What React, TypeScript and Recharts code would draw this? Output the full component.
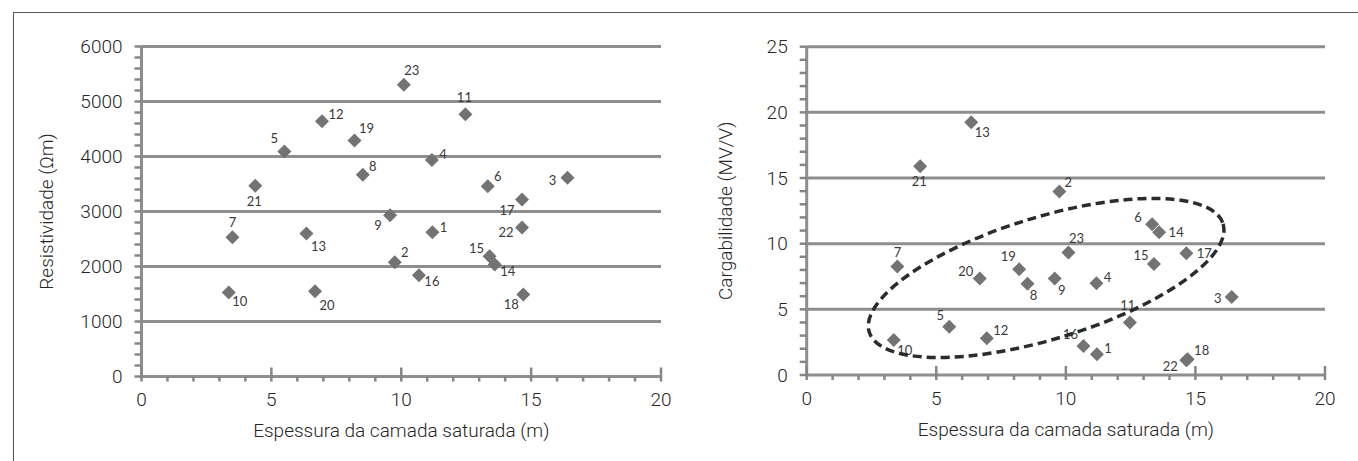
import { ScatterChart, Scatter, XAxis, YAxis, ReferenceLine, ReferenceDot, Label } from 'recharts';

// 측점 번호 (1..23)
const WELLS = ['1', '2', '3', '4', '5', '6', '7', '8', '9', '10', '11', '12', '13', '14', '15', '16', '17', '18', '19', '20', '21', '22', '23'];

// Espessura da camada saturada (m)
const THICKNESS = [11.2, 9.75, 16.4, 11.18, 5.5, 13.33, 3.5, 8.52, 9.57, 3.36, 12.47, 6.95, 6.35, 13.6, 13.4, 10.68, 14.65, 14.7, 8.2, 6.68, 4.38, 14.65, 10.1];

// Resistividade (Ωm)
const RESISTIVITY = [2622, 2078, 3615, 3935, 4093, 3457, 2532, 3670, 2931, 1528, 4770, 4642, 2599, 2036, 2187, 1842, 3216, 1491, 4292, 1552, 3470, 2708, 5303];

// Cargabilidade (MV/V)
const CHARGEABILITY = [1.58, 13.97, 5.94, 6.99, 3.68, 11.48, 8.26, 6.94, 7.34, 2.67, 3.99, 2.79, 19.24, 10.87, 8.46, 2.21, 9.27, 1.2, 8.05, 7.34, 15.9, 1.12, 9.32];

// 축 눈금
const X_TICKS = [0, 5, 10, 15, 20];
const Y_TICKS_RES = [0, 1000, 2000, 3000, 4000, 5000, 6000];
const Y_TICKS_CHG = [0, 5, 10, 15, 20, 25];

// 점선 타원 중심 (데이터 단위)
const ELLIPSE_CENTER = { x: 9.24, y: 7.39 };

// 라벨 위치 (점 기준 px 오프셋) - 스타일 정보
const LABEL_OFFSETS_RES: Record<string, [number, number]> = {
  '1': [11, -5], '2': [10, -10], '3': [-15, 2], '4': [11, -6], '5': [-10, -13], '6': [10, -10],
  '7': [0, -15], '8': [10, -9], '9': [-12, 10], '10': [11, 9], '11': [-1, -17], '12': [14, -7],
  '13': [12, 12], '14': [13, 6], '15': [-13, -8], '16': [13, 6], '17': [-15, 10], '18': [-12, 10],
  '19': [12, -12], '20': [12, 14], '21': [-1, 15], '22': [-16, 4], '23': [8, -15],
};
const LABEL_OFFSETS_CHG: Record<string, [number, number]> = {
  '1': [11, -6], '2': [9, -10], '3': [-14, 1], '4': [11, -6], '5': [-9, -12], '6': [-14, -7],
  '7': [0, -15], '8': [6, 11], '9': [7, 11], '10': [11, 10], '11': [-2, -18], '12': [14, -8],
  '13': [11, 10], '14': [17, 0], '15': [-13, -9], '16': [-13, -12], '17': [18, 0], '18': [14, -9],
  '19': [-11, -13], '20': [-14, -8], '21': [-1, 15], '22': [-16, 6], '23': [8, -15],
};

const AXIS_COLOR = '#8e8e8e';
const TICK_COLOR = '#868686';
const MARK_COLOR = '#737373';
const TEXT_COLOR = '#262626';
const FONT = 'Roboto, "Liberation Sans", Arial, sans-serif';
const LABEL_FONT = 'Lato, "Open Sans", sans-serif';

const resData = WELLS.map((id, i) => ({ id, x: THICKNESS[i], y: RESISTIVITY[i] }));
const chgData = WELLS.map((id, i) => ({ id, x: THICKNESS[i], y: CHARGEABILITY[i] }));

function makeDiamond(offsets: Record<string, [number, number]>) {
  return (props: any) => {
    const { cx, cy, payload } = props;
    if (cx == null || cy == null) return null;
    const r = 7;
    const [dx, dy] = offsets[payload.id] || [10, -10];
    return (
      <g>
        <polygon
          points={`${cx},${cy - r} ${cx + r},${cy} ${cx},${cy + r} ${cx - r},${cy}`}
          fill={MARK_COLOR}
        />
        <text
          x={cx + dx}
          y={cy + dy}
          textAnchor="middle"
          dominantBaseline="central"
          fontFamily={LABEL_FONT}
          fontSize={13}
          fill="#3a3a3a"
        >
          {payload.id}
        </text>
      </g>
    );
  };
}

function makeYTick(major: number[]) {
  return (props: any) => {
    const { x, y, payload } = props;
    const isMajor = major.includes(payload.value);
    return (
      <g>
        <rect x={x - 7} y={y - 1.25} width={7} height={2.5} fill={TICK_COLOR} stroke="none" />
        {isMajor && (
          <text x={x - 19} y={y} textAnchor="end" dominantBaseline="central"
            fontFamily={FONT} fontWeight={300} fontSize={19} fill={TEXT_COLOR}>
            {payload.value}
          </text>
        )}
      </g>
    );
  };
}

const XTick = (props: any) => {
  const { x, y, payload } = props;
  const isMajor = X_TICKS.includes(payload.value);
  const top = isMajor ? y - 9 : y;
  return (
    <g>
      <rect x={x - 1.25} y={top} width={2.5} height={y + 5 - top} fill={TICK_COLOR} stroke="none" />
      {isMajor && (
        <text x={x} y={y + 23} textAnchor="middle" dominantBaseline="central"
          fontFamily={FONT} fontWeight={300} fontSize={19} fill={TEXT_COLOR}>
          {payload.value}
        </text>
      )}
    </g>
  );
};

const EllipseShape = (props: any) => {
  const { cx, cy } = props;
  if (cx == null || cy == null) return null;
  return (
    <ellipse
      cx={cx}
      cy={cy}
      rx={185}
      ry={61}
      transform={`rotate(-17 ${cx} ${cy})`}
      fill="none"
      stroke="#2b2b2b"
      strokeWidth={3.5}
      strokeDasharray="9 5"
    />
  );
};

function range(start: number, end: number, step: number) {
  const out: number[] = [];
  for (let v = start; v <= end + 1e-9; v += step) out.push(Math.round(v * 1000) / 1000);
  return out;
}

interface PanelProps {
  data: { id: string; x: number; y: number }[];
  width: number;
  left: number;
  marginLeft: number;
  yAxisWidth: number;
  marginRight: number;
  marginTop: number;
  plotBottom: number;
  yMax: number;
  yMajor: number[];
  yMinorStep: number;
  yTitle: string;
  offsets: Record<string, [number, number]>;
  ellipse?: boolean;
}

function Panel(p: PanelProps) {
  const height = 461;
  const xAxisHeight = 70;
  const marginBottom = height - p.plotBottom - xAxisHeight;
  return (
    <div style={{ position: 'absolute', left: p.left, top: 0 }}>
      <ScatterChart
        width={p.width}
        height={height}
        margin={{ top: p.marginTop, right: p.marginRight, bottom: marginBottom, left: p.marginLeft }}
      >
        <XAxis
          type="number"
          dataKey="x"
          domain={[0, 20]}
          ticks={range(0, 20, 1)}
          interval={0}
          tickSize={0}
          tickMargin={0}
          tickLine={false}
          axisLine={{ stroke: AXIS_COLOR, strokeWidth: 3 }}
          tick={XTick}
          height={xAxisHeight}
        >
          <Label
            content={({ viewBox }: any) => (
              <text
                x={viewBox.x + viewBox.width / 2}
                y={viewBox.y + 54}
                textAnchor="middle"
                dominantBaseline="central"
                fontFamily={FONT}
                fontWeight={300}
                fontSize={19}
                fill={TEXT_COLOR}
              >
                Espessura da camada saturada (m)
              </text>
            )}
          />
        </XAxis>
        <YAxis
          type="number"
          dataKey="y"
          domain={[0, p.yMax]}
          ticks={range(0, p.yMax, p.yMinorStep)}
          interval={0}
          tickSize={0}
          tickMargin={0}
          tickLine={false}
          axisLine={{ stroke: AXIS_COLOR, strokeWidth: 3 }}
          tick={makeYTick(p.yMajor)}
          width={p.yAxisWidth}
        >
          <Label
            content={({ viewBox }: any) => {
              const cx = viewBox.x + 46 - p.marginLeft;
              const cy = viewBox.y + viewBox.height / 2;
              return (
                <text
                  x={cx}
                  y={cy}
                  transform={`rotate(-90 ${cx} ${cy})`}
                  textAnchor="middle"
                  dominantBaseline="central"
                  fontFamily={FONT}
                  fontWeight={300}
                  fontSize={19}
                  fill={TEXT_COLOR}
                >
                  {p.yTitle}
                </text>
              );
            }}
          />
        </YAxis>
        {p.yMajor.filter((v) => v > 0).map((v) => (
          <ReferenceLine key={v} y={v} stroke={AXIS_COLOR} strokeWidth={3} />
        ))}
        <Scatter data={p.data} shape={makeDiamond(p.offsets)} isAnimationActive={false} />
        {p.ellipse && (
          <ReferenceDot x={ELLIPSE_CENTER.x} y={ELLIPSE_CENTER.y} r={0} shape={EllipseShape} />
        )}
      </ScatterChart>
    </div>
  );
}

export default function App() {
  return (
    <div
      style={{
        position: 'absolute',
        left: 0,
        top: 0,
        width: 1358,
        height: 461,
        background: '#fff',
        overflow: 'hidden',
      }}
    >
      <div
        style={{
          position: 'absolute',
          left: 13,
          top: 12,
          right: 0,
          bottom: 0,
          borderTop: '1px solid #555',
          borderLeft: '1px solid #555',
        }}
      />
      <Panel
        data={resData}
        width={680}
        left={0}
        marginLeft={41.5}
        yAxisWidth={100}
        marginRight={19}
        marginTop={46.5}
        plotBottom={376.5}
        yMax={6000}
        yMajor={Y_TICKS_RES}
        yMinorStep={200}
        yTitle="Resistividade (Ωm)"
        offsets={LABEL_OFFSETS_RES}
      />
      <Panel
        data={chgData}
        width={678}
        left={680}
        marginLeft={26.7}
        yAxisWidth={100}
        marginRight={33}
        marginTop={46.7}
        plotBottom={375}
        yMax={25}
        yMajor={Y_TICKS_CHG}
        yMinorStep={1}
        yTitle="Cargabilidade (MV/V)"
        offsets={LABEL_OFFSETS_CHG}
        ellipse
      />
    </div>
  );
}
